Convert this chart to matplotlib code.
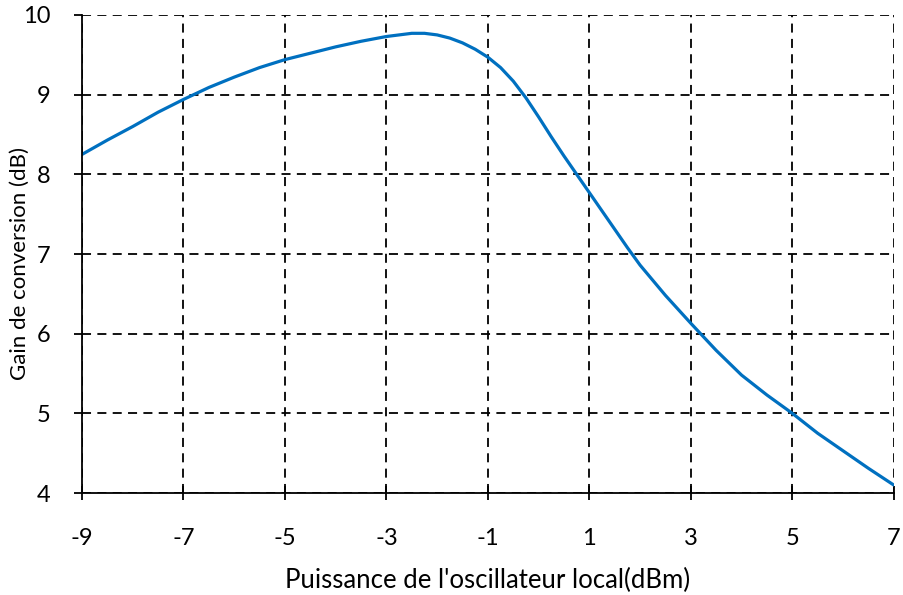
import matplotlib
matplotlib.use("Agg")
import matplotlib.pyplot as plt

plt.rcParams['font.family'] = ['Lato', 'DejaVu Sans']

x_dbm = [-9, -8.5, -8, -7.5, -7, -6.5, -6, -5.5, -5, -4.5, -4, -3.5, -3, -2.75, -2.5, -2.25, -2,
         -1.75, -1.5, -1.25, -1, -0.75, -0.5, -0.25, 0, 0.25, 0.5, 0.75, 1,
         1.25, 1.5, 1.75, 2, 2.5, 3, 3.5, 4, 4.5, 5, 5.5, 6, 6.5, 7]
gain_db = [8.25, 8.43, 8.60, 8.78, 8.94, 9.09, 9.22, 9.34, 9.44, 9.52, 9.60, 9.67, 9.73, 9.75, 9.77, 9.77, 9.75,
           9.71, 9.65, 9.57, 9.47, 9.34, 9.17, 8.96, 8.72, 8.47, 8.23, 8.00, 7.77,
           7.54, 7.31, 7.08, 6.86, 6.48, 6.13, 5.79, 5.48, 5.23, 5.00, 4.75, 4.53, 4.31, 4.10]
x_ticks = [-9, -7, -5, -3, -1, 1, 3, 5, 7]
y_ticks = [4, 5, 6, 7, 8, 9, 10]

W, H = 904, 595
fig = plt.figure(figsize=(W / 100, H / 100), dpi=100)
ax = fig.add_axes([0.0907, 0.1714, 0.898, 0.8034])
ax.plot(x_dbm, gain_db, color='#0070C0', lw=2.3, solid_capstyle='round', solid_joinstyle='round')
ax.set_xlim(-9, 7)
ax.set_ylim(4, 10)
ax.set_xticks(x_ticks)
ax.set_yticks(y_ticks)
ax.set_xticklabels([str(t) for t in x_ticks])
ax.grid(True, color='black', linestyle=(0, (5, 3.5)), linewidth=1.3)
for s in ['top', 'right']:
    ax.spines[s].set_visible(False)
for s in ['left', 'bottom']:
    ax.spines[s].set_linewidth(1.3)
ax.tick_params(axis='x', direction='inout', length=10, width=1.3, labelsize=17, pad=20)
ax.tick_params(axis='y', direction='out', length=6, width=1.3, labelsize=17, pad=17)
ax.set_xlabel("Puissance de l'oscillateur local(dBm)", fontsize=18.5, labelpad=14)
ax.set_ylabel("Gain de conversion (dB)", fontsize=16)
ax.yaxis.set_label_coords(20 / W, 1 - 263 / H, transform=fig.transFigure)
ax.yaxis.label.set_va('center')
fig.savefig('out.png', dpi=100)
